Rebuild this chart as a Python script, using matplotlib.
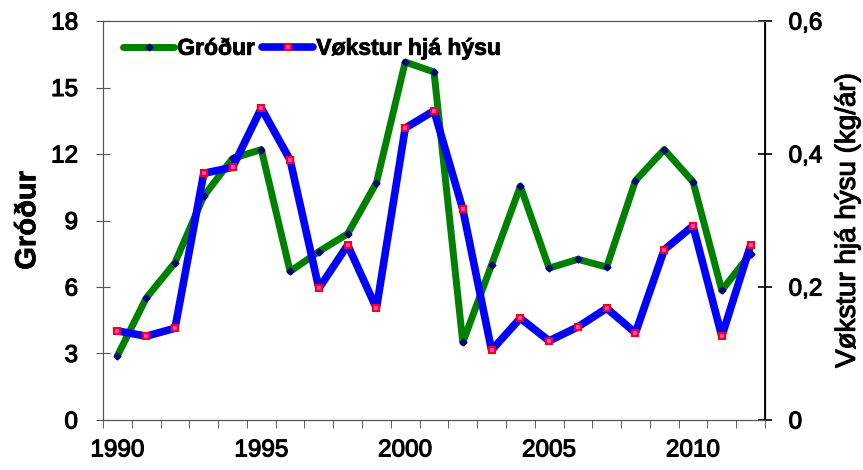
import matplotlib
matplotlib.use("Agg")
import matplotlib.pyplot as plt
import matplotlib.patheffects as pe
from matplotlib.ticker import FixedLocator, FuncFormatter

years = list(range(1990, 2013))
grodur = [2.9, 5.5, 7.1, 10.1, 11.8, 12.2, 6.7, 7.6, 8.4, 10.7, 16.15, 15.7,
          3.5, 7.0, 10.55, 6.85, 7.25, 6.9, 10.8, 12.2, 10.75, 5.85, 7.5]
voekstur = [0.134, 0.126, 0.138, 0.371, 0.380, 0.469, 0.391, 0.198, 0.263, 0.168,
            0.439, 0.465, 0.317, 0.105, 0.153, 0.119, 0.140, 0.168, 0.131, 0.256,
            0.292, 0.126, 0.263]
left_ticks = [0, 3, 6, 9, 12, 15, 18]
right_ticks = [0, 0.2, 0.4, 0.6]
x_labels = [1990, 1995, 2000, 2005, 2010]

plt.rcParams['font.family'] = ['Liberation Sans', 'DejaVu Sans']

fig = plt.figure(figsize=(8.63, 4.70), dpi=100)
ax = fig.add_axes([0.1194, 0.1064, 0.8864 - 0.1194, 0.9553 - 0.1064])
ax2 = ax.twinx()

l1, = ax.plot(years, grodur, color='#008000', lw=5, solid_capstyle='round',
              marker='D', markersize=3.5, mfc='#000080', mec='#000080', zorder=3)
l2, = ax2.plot(years, voekstur, color='#0000ff', lw=5.5, solid_capstyle='round',
               marker='s', markersize=4, mfc='#ff40ff', mec='#ff0000', mew=1.5, zorder=4)

ax.set_xlim(1989.5, 2012.5)
ax.set_ylim(0, 18)
ax2.set_ylim(0, 0.6)

ax.set_yticks(left_ticks)
ax2.set_yticks(right_ticks)
ax2.yaxis.set_major_formatter(FuncFormatter(lambda v, p: ('%g' % v).replace('.', ',')))

ax.set_xticks(x_labels)
ax.set_xticklabels([str(x) for x in x_labels])
ax.tick_params(axis='x', which='major', length=0, labelsize=17.5, pad=14)
ax.xaxis.set_minor_locator(FixedLocator([y - 0.5 for y in years] + [2012.5]))
ax.tick_params(axis='x', which='minor', length=6, direction='out', color='#444444')

ax.tick_params(axis='y', direction='inout', length=10, labelsize=17.5, color='#555555', pad=13)
ax2.tick_params(axis='y', direction='inout', length=10, labelsize=17.5, color='black',
                width=1.2, pad=12)

for lab in ax.get_xticklabels() + ax.get_yticklabels() + ax2.get_yticklabels():
    lab.set_path_effects([pe.withStroke(linewidth=0.8, foreground='black')])

for s in ['left', 'bottom', 'top']:
    ax.spines[s].set_color('#555555')
    ax2.spines[s].set_color('#555555')
ax2.spines['right'].set_color('black')
ax2.spines['right'].set_linewidth(1.3)

ax.set_ylabel('Gróður', fontsize=21, labelpad=7)
ax.yaxis.label.set_fontweight('bold')
ax.yaxis.label.set_path_effects([pe.withStroke(linewidth=0.5, foreground='black')])
ax2.set_ylabel('Vøkstur hjá hýsu (kg/ár)', fontsize=20, labelpad=9)
ax2.yaxis.label.set_path_effects([pe.withStroke(linewidth=0.8, foreground='black')])

leg = ax2.legend([l1, l2], ['Gróður', 'Vøkstur hjá hýsu'], loc='upper left',
                 bbox_to_anchor=(0.01, 0.995), ncol=2, frameon=False,
                 prop={'size': 16.5, 'weight': 'bold'},
                 handlelength=2.2, handletextpad=0.15, columnspacing=0.35,
                 borderaxespad=0.2)
for t in leg.get_texts():
    t.set_fontweight('bold')
    t.set_path_effects([pe.withStroke(linewidth=0.6, foreground='black')])

fig.savefig('out.png', dpi=100)
